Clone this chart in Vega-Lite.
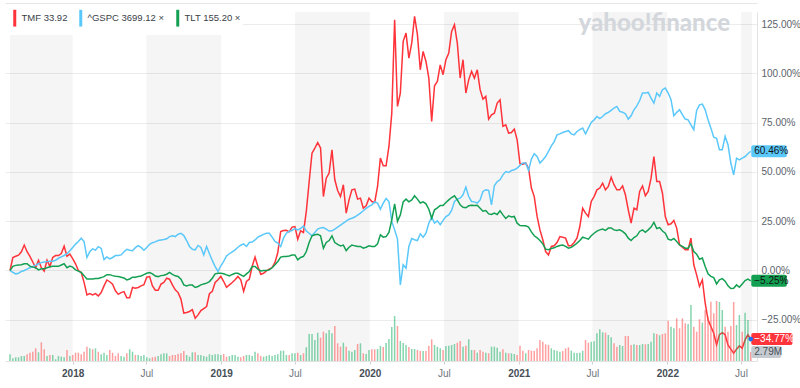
{
"$schema":"https://vega.github.io/schema/vega-lite/v6.json",
"width":752,"height":349,
"autosize":{"type":"none"},
"padding":{"left":5,"top":12,"right":43,"bottom":27},
"background":"#ffffff",
"title":{"text":"yahoo!finance","orient":"top","anchor":"end","frame":"group","offset":-16,"dy":36,"dx":-27,"fontSize":24,"fontWeight":900,"color":"#d3d7dc","font":"Lato","baseline":"alphabetic"},
"config":{"view":{"stroke":null},"font":"Liberation Sans","axis":{"title":null}},
"datasets":{
"bands":[
{"start":"2017-07-31","end":"2018-01-01"},
{"start":"2018-07-01","end":"2019-01-01"},
{"start":"2019-07-01","end":"2020-01-01"},
{"start":"2020-07-01","end":"2021-01-01"},
{"start":"2021-07-01","end":"2022-01-01"},
{"start":"2022-07-01","end":"2022-07-28"}
],
"prices":[
{"date":"2017-07-31","TMF":0,"GSPC":0,"TLT":0,"vol":2.08},
{"date":"2017-08-07","TMF":6.6,"GSPC":-0.9,"TLT":2.1,"vol":0.84},
{"date":"2017-08-14","TMF":7.2,"GSPC":-1.7,"TLT":2.6,"vol":1.15},
{"date":"2017-08-21","TMF":7.8,"GSPC":-1.4,"TLT":2.8,"vol":1.15},
{"date":"2017-08-28","TMF":9.5,"GSPC":-0.5,"TLT":2.9,"vol":1.55},
{"date":"2017-09-04","TMF":12.9,"GSPC":0,"TLT":3.4,"vol":1.55},
{"date":"2017-09-11","TMF":9.5,"GSPC":0.7,"TLT":3.4,"vol":2.08},
{"date":"2017-09-18","TMF":7.2,"GSPC":1.4,"TLT":2.2,"vol":2.57},
{"date":"2017-09-25","TMF":4.3,"GSPC":2.1,"TLT":1.7,"vol":2.88},
{"date":"2017-10-02","TMF":1.4,"GSPC":2.6,"TLT":1.4,"vol":3.94},
{"date":"2017-10-09","TMF":5.2,"GSPC":3.4,"TLT":0.3,"vol":2.7},
{"date":"2017-10-16","TMF":1.4,"GSPC":4.0,"TLT":0.9,"vol":5.8},
{"date":"2017-10-23","TMF":-0.3,"GSPC":4.3,"TLT":0.9,"vol":3.63},
{"date":"2017-10-30","TMF":5.2,"GSPC":4.5,"TLT":1.4,"vol":1.55},
{"date":"2017-11-06","TMF":2.1,"GSPC":4.7,"TLT":1.9,"vol":1.86},
{"date":"2017-11-13","TMF":6.6,"GSPC":4.7,"TLT":2.1,"vol":1.86},
{"date":"2017-11-20","TMF":7.6,"GSPC":5.2,"TLT":2.1,"vol":0.53},
{"date":"2017-11-27","TMF":7.6,"GSPC":6.2,"TLT":2.1,"vol":1.55},
{"date":"2017-12-04","TMF":8.6,"GSPC":6.9,"TLT":2.8,"vol":1.33},
{"date":"2017-12-11","TMF":12.4,"GSPC":7.6,"TLT":3.4,"vol":1.15},
{"date":"2017-12-18","TMF":7.2,"GSPC":8.4,"TLT":1.4,"vol":3.41},
{"date":"2017-12-25","TMF":8.3,"GSPC":10.0,"TLT":2.2,"vol":1.55},
{"date":"2018-01-01","TMF":6.0,"GSPC":11.7,"TLT":1.7,"vol":1.86},
{"date":"2018-01-08","TMF":3.4,"GSPC":13.4,"TLT":0.3,"vol":2.57},
{"date":"2018-01-15","TMF":0,"GSPC":14.7,"TLT":-0.3,"vol":2.57},
{"date":"2018-01-22","TMF":-1.0,"GSPC":16.4,"TLT":-1.0,"vol":2.08},
{"date":"2018-01-29","TMF":-6.0,"GSPC":14.7,"TLT":-2.6,"vol":2.88},
{"date":"2018-02-05","TMF":-12.4,"GSPC":6.6,"TLT":-4.3,"vol":4.43},
{"date":"2018-02-12","TMF":-11.7,"GSPC":9.5,"TLT":-4.3,"vol":3.94},
{"date":"2018-02-19","TMF":-12.4,"GSPC":11.0,"TLT":-4.3,"vol":3.63},
{"date":"2018-02-26","TMF":-11.7,"GSPC":10.3,"TLT":-4.1,"vol":3.94},
{"date":"2018-03-05","TMF":-12.9,"GSPC":12.1,"TLT":-4.0,"vol":2.88},
{"date":"2018-03-12","TMF":-11.2,"GSPC":11.2,"TLT":-3.6,"vol":2.08},
{"date":"2018-03-19","TMF":-7.8,"GSPC":5.5,"TLT":-3.1,"vol":2.57},
{"date":"2018-03-26","TMF":-4.8,"GSPC":6.9,"TLT":-2.1,"vol":1.86},
{"date":"2018-04-02","TMF":-5.7,"GSPC":5.9,"TLT":-2.1,"vol":3.41},
{"date":"2018-04-09","TMF":-6.9,"GSPC":6.6,"TLT":-2.6,"vol":2.57},
{"date":"2018-04-16","TMF":-10.3,"GSPC":7.6,"TLT":-2.9,"vol":1.55},
{"date":"2018-04-23","TMF":-12.1,"GSPC":7.6,"TLT":-3.1,"vol":2.39},
{"date":"2018-04-30","TMF":-11.2,"GSPC":7.9,"TLT":-3.4,"vol":1.55},
{"date":"2018-05-07","TMF":-10.7,"GSPC":9.5,"TLT":-3.8,"vol":1.33},
{"date":"2018-05-14","TMF":-13.8,"GSPC":10.7,"TLT":-4.8,"vol":2.39},
{"date":"2018-05-21","TMF":-13.8,"GSPC":10.3,"TLT":-4.3,"vol":3.63},
{"date":"2018-05-28","TMF":-8.6,"GSPC":10.0,"TLT":-3.4,"vol":2.88},
{"date":"2018-06-04","TMF":-9.0,"GSPC":11.6,"TLT":-3.4,"vol":1.86},
{"date":"2018-06-11","TMF":-8.6,"GSPC":12.6,"TLT":-3.1,"vol":1.86},
{"date":"2018-06-18","TMF":-7.8,"GSPC":11.7,"TLT":-2.8,"vol":1.55},
{"date":"2018-06-25","TMF":-7.2,"GSPC":10.3,"TLT":-2.1,"vol":1.86},
{"date":"2018-07-02","TMF":-3.4,"GSPC":11.7,"TLT":-1.4,"vol":1.15},
{"date":"2018-07-09","TMF":-3.1,"GSPC":13.3,"TLT":-1.0,"vol":0.84},
{"date":"2018-07-16","TMF":-7.8,"GSPC":14.1,"TLT":-1.7,"vol":1.15},
{"date":"2018-07-23","TMF":-10.0,"GSPC":14.5,"TLT":-2.8,"vol":1.33},
{"date":"2018-07-30","TMF":-10.0,"GSPC":15.2,"TLT":-3.1,"vol":1.55},
{"date":"2018-08-06","TMF":-6.9,"GSPC":15.5,"TLT":-2.6,"vol":2.08},
{"date":"2018-08-13","TMF":-6.1,"GSPC":15.7,"TLT":-2.4,"vol":2.39},
{"date":"2018-08-20","TMF":-3.9,"GSPC":16.1,"TLT":-1.9,"vol":2.39},
{"date":"2018-08-27","TMF":-4.4,"GSPC":17.2,"TLT":-1.0,"vol":1.55},
{"date":"2018-09-03","TMF":-7.3,"GSPC":17.6,"TLT":-2.0,"vol":1.86},
{"date":"2018-09-10","TMF":-9.8,"GSPC":17.2,"TLT":-2.7,"vol":1.86},
{"date":"2018-09-17","TMF":-11.2,"GSPC":18.4,"TLT":-3.0,"vol":2.17},
{"date":"2018-09-24","TMF":-14.5,"GSPC":18.9,"TLT":-4.4,"vol":2.39},
{"date":"2018-10-01","TMF":-21.6,"GSPC":17.7,"TLT":-7.3,"vol":3.1},
{"date":"2018-10-08","TMF":-21.3,"GSPC":15.2,"TLT":-7.8,"vol":1.86},
{"date":"2018-10-15","TMF":-20.8,"GSPC":12.2,"TLT":-7.3,"vol":1.33},
{"date":"2018-10-22","TMF":-19.9,"GSPC":10.8,"TLT":-7.4,"vol":2.7},
{"date":"2018-10-29","TMF":-24.2,"GSPC":10.5,"TLT":-8.6,"vol":2.7},
{"date":"2018-11-05","TMF":-22.5,"GSPC":12.7,"TLT":-8.1,"vol":1.86},
{"date":"2018-11-12","TMF":-20.3,"GSPC":11.7,"TLT":-7.3,"vol":1.86},
{"date":"2018-11-19","TMF":-19.3,"GSPC":7.9,"TLT":-6.8,"vol":1.55},
{"date":"2018-11-26","TMF":-18.3,"GSPC":12.2,"TLT":-6.4,"vol":1.33},
{"date":"2018-12-03","TMF":-11.8,"GSPC":8.5,"TLT":-5.6,"vol":2.08},
{"date":"2018-12-10","TMF":-10.6,"GSPC":5.1,"TLT":-3.9,"vol":1.86},
{"date":"2018-12-17","TMF":-6.1,"GSPC":2.0,"TLT":-1.7,"vol":2.08},
{"date":"2018-12-24","TMF":-4.7,"GSPC":-0.5,"TLT":-1.4,"vol":2.08},
{"date":"2018-12-31","TMF":-3.0,"GSPC":2.4,"TLT":-1.4,"vol":1.86},
{"date":"2019-01-07","TMF":-5.6,"GSPC":4.6,"TLT":-1.7,"vol":2.17},
{"date":"2019-01-14","TMF":-8.5,"GSPC":7.4,"TLT":-2.2,"vol":1.33},
{"date":"2019-01-21","TMF":-7.3,"GSPC":8.5,"TLT":-2.7,"vol":1.55},
{"date":"2019-01-28","TMF":-6.1,"GSPC":9.5,"TLT":-2.0,"vol":1.86},
{"date":"2019-02-04","TMF":-4.7,"GSPC":10.5,"TLT":-1.4,"vol":1.86},
{"date":"2019-02-11","TMF":-3.0,"GSPC":11.8,"TLT":-1.4,"vol":1.33},
{"date":"2019-02-18","TMF":-4.7,"GSPC":12.8,"TLT":-2.2,"vol":1.15},
{"date":"2019-02-25","TMF":-10.6,"GSPC":13.5,"TLT":-3.0,"vol":1.55},
{"date":"2019-03-04","TMF":-5.6,"GSPC":12.2,"TLT":-1.7,"vol":1.86},
{"date":"2019-03-11","TMF":-4.4,"GSPC":14.2,"TLT":-0.5,"vol":1.86},
{"date":"2019-03-18","TMF":2.0,"GSPC":14.4,"TLT":2.0,"vol":1.55},
{"date":"2019-03-25","TMF":6.8,"GSPC":15.5,"TLT":2.0,"vol":2.88},
{"date":"2019-04-01","TMF":2.0,"GSPC":16.9,"TLT":0.7,"vol":2.39},
{"date":"2019-04-08","TMF":-1.9,"GSPC":17.6,"TLT":-0.2,"vol":1.55},
{"date":"2019-04-15","TMF":-1.4,"GSPC":18.3,"TLT":0,"vol":1.33},
{"date":"2019-04-22","TMF":-0.2,"GSPC":18.9,"TLT":0,"vol":1.55},
{"date":"2019-04-29","TMF":0.7,"GSPC":18.9,"TLT":0.3,"vol":1.86},
{"date":"2019-05-06","TMF":1.5,"GSPC":16.9,"TLT":1.4,"vol":1.55},
{"date":"2019-05-13","TMF":4.1,"GSPC":14.7,"TLT":2.9,"vol":1.86},
{"date":"2019-05-20","TMF":9.1,"GSPC":13.9,"TLT":4.6,"vol":2.08},
{"date":"2019-05-27","TMF":19.8,"GSPC":12.2,"TLT":6.8,"vol":3.19},
{"date":"2019-06-03","TMF":20.3,"GSPC":16.4,"TLT":7.1,"vol":3.19},
{"date":"2019-06-10","TMF":20.4,"GSPC":18.9,"TLT":7.1,"vol":1.86},
{"date":"2019-06-17","TMF":19.6,"GSPC":19.9,"TLT":7.4,"vol":1.86},
{"date":"2019-06-24","TMF":22.0,"GSPC":20.3,"TLT":7.8,"vol":2.39},
{"date":"2019-07-01","TMF":22.3,"GSPC":21.3,"TLT":7.9,"vol":2.39},
{"date":"2019-07-08","TMF":15.9,"GSPC":20.6,"TLT":5.4,"vol":2.57},
{"date":"2019-07-15","TMF":20.1,"GSPC":21.3,"TLT":6.6,"vol":1.86},
{"date":"2019-07-22","TMF":19.3,"GSPC":22.6,"TLT":7.1,"vol":2.39},
{"date":"2019-07-29","TMF":30.0,"GSPC":20.0,"TLT":9.6,"vol":4.25},
{"date":"2019-08-05","TMF":45.0,"GSPC":18.9,"TLT":14.2,"vol":8.37},
{"date":"2019-08-12","TMF":59.5,"GSPC":17.6,"TLT":17.6,"vol":8.37},
{"date":"2019-08-19","TMF":62.1,"GSPC":19.3,"TLT":18.1,"vol":6.51},
{"date":"2019-08-26","TMF":64.9,"GSPC":21.0,"TLT":18.4,"vol":8.77},
{"date":"2019-09-02","TMF":62.1,"GSPC":21.6,"TLT":17.6,"vol":7.22},
{"date":"2019-09-09","TMF":37.5,"GSPC":21.8,"TLT":11.3,"vol":9.08},
{"date":"2019-09-16","TMF":46.8,"GSPC":21.0,"TLT":14.2,"vol":8.59},
{"date":"2019-09-23","TMF":49.4,"GSPC":20.0,"TLT":15.2,"vol":9.61},
{"date":"2019-09-30","TMF":61.2,"GSPC":20.1,"TLT":17.6,"vol":8.59},
{"date":"2019-10-07","TMF":46.0,"GSPC":21.0,"TLT":14.2,"vol":10.85},
{"date":"2019-10-14","TMF":40.6,"GSPC":22.0,"TLT":13.2,"vol":5.49},
{"date":"2019-10-21","TMF":37.5,"GSPC":23.0,"TLT":12.5,"vol":4.43},
{"date":"2019-10-28","TMF":43.5,"GSPC":24.0,"TLT":12.9,"vol":5.67},
{"date":"2019-11-04","TMF":29.1,"GSPC":25.0,"TLT":10.1,"vol":4.43},
{"date":"2019-11-11","TMF":35.8,"GSPC":26.0,"TLT":11.8,"vol":3.19},
{"date":"2019-11-18","TMF":40.9,"GSPC":26.5,"TLT":12.9,"vol":2.88},
{"date":"2019-11-25","TMF":41.3,"GSPC":27.1,"TLT":12.5,"vol":3.41},
{"date":"2019-12-02","TMF":36.2,"GSPC":28.1,"TLT":12.2,"vol":5.27},
{"date":"2019-12-09","TMF":36.7,"GSPC":29.1,"TLT":12.2,"vol":5.49},
{"date":"2019-12-16","TMF":31.6,"GSPC":30.3,"TLT":11.3,"vol":2.39},
{"date":"2019-12-23","TMF":32.8,"GSPC":31.5,"TLT":11.8,"vol":2.17},
{"date":"2019-12-30","TMF":36.7,"GSPC":32.5,"TLT":12.5,"vol":3.41},
{"date":"2020-01-06","TMF":35.0,"GSPC":33.3,"TLT":12.2,"vol":3.63},
{"date":"2020-01-13","TMF":34.5,"GSPC":34.8,"TLT":12.2,"vol":3.63},
{"date":"2020-01-20","TMF":42.6,"GSPC":34.2,"TLT":13.5,"vol":3.72},
{"date":"2020-01-27","TMF":57.0,"GSPC":31.1,"TLT":18.1,"vol":4.65},
{"date":"2020-02-03","TMF":53.1,"GSPC":34.2,"TLT":16.9,"vol":4.34},
{"date":"2020-02-10","TMF":53.1,"GSPC":36.5,"TLT":17.2,"vol":5.58},
{"date":"2020-02-17","TMF":62.9,"GSPC":35.0,"TLT":19.3,"vol":6.82},
{"date":"2020-02-24","TMF":79.8,"GSPC":24.9,"TLT":25.7,"vol":10.54},
{"date":"2020-03-02","TMF":127.2,"GSPC":20.6,"TLT":33.8,"vol":13.95},
{"date":"2020-03-09","TMF":83.2,"GSPC":15.9,"TLT":24.9,"vol":10.85},
{"date":"2020-03-16","TMF":90.0,"GSPC":-7.3,"TLT":28.2,"vol":6.2},
{"date":"2020-03-23","TMF":116.2,"GSPC":2.9,"TLT":34.8,"vol":5.58},
{"date":"2020-03-30","TMF":120.4,"GSPC":1.2,"TLT":36.2,"vol":4.96},
{"date":"2020-04-06","TMF":107.7,"GSPC":12.2,"TLT":34.8,"vol":4.34},
{"date":"2020-04-13","TMF":115.3,"GSPC":16.2,"TLT":35.8,"vol":3.72},
{"date":"2020-04-20","TMF":128.9,"GSPC":15.6,"TLT":37.9,"vol":3.72},
{"date":"2020-04-27","TMF":119.6,"GSPC":15.2,"TLT":36.2,"vol":3.41},
{"date":"2020-05-04","TMF":101.8,"GSPC":18.6,"TLT":34.2,"vol":3.1},
{"date":"2020-05-11","TMF":111.1,"GSPC":16.9,"TLT":34.8,"vol":3.1},
{"date":"2020-05-18","TMF":106.0,"GSPC":18.9,"TLT":33.8,"vol":3.1},
{"date":"2020-05-25","TMF":97.6,"GSPC":24.0,"TLT":31.1,"vol":4.74},
{"date":"2020-06-01","TMF":75.6,"GSPC":27.1,"TLT":26.5,"vol":6.73},
{"date":"2020-06-08","TMF":93.7,"GSPC":24.0,"TLT":30.8,"vol":4.96},
{"date":"2020-06-15","TMF":95.9,"GSPC":25.2,"TLT":31.8,"vol":4.43},
{"date":"2020-06-22","TMF":104.3,"GSPC":23.2,"TLT":33.0,"vol":3.94},
{"date":"2020-06-29","TMF":99.3,"GSPC":25.4,"TLT":33.0,"vol":3.41},
{"date":"2020-07-06","TMF":106.9,"GSPC":27.4,"TLT":34.5,"vol":4.65},
{"date":"2020-07-13","TMF":110.3,"GSPC":28.2,"TLT":35.8,"vol":4.74},
{"date":"2020-07-20","TMF":121.2,"GSPC":30.5,"TLT":37.0,"vol":4.96},
{"date":"2020-07-27","TMF":124.6,"GSPC":35.0,"TLT":37.9,"vol":5.27},
{"date":"2020-08-03","TMF":115.3,"GSPC":36.2,"TLT":35.8,"vol":5.67},
{"date":"2020-08-10","TMF":97.6,"GSPC":36.7,"TLT":33.3,"vol":6.2},
{"date":"2020-08-17","TMF":106.9,"GSPC":38.4,"TLT":32.1,"vol":4.43},
{"date":"2020-08-24","TMF":90.0,"GSPC":42.3,"TLT":31.8,"vol":4.74},
{"date":"2020-08-31","TMF":96.7,"GSPC":37.5,"TLT":32.8,"vol":6.73},
{"date":"2020-09-07","TMF":101.0,"GSPC":35.0,"TLT":33.1,"vol":3.41},
{"date":"2020-09-14","TMF":97.6,"GSPC":34.8,"TLT":33.0,"vol":3.41},
{"date":"2020-09-21","TMF":101.8,"GSPC":34.2,"TLT":33.1,"vol":2.57},
{"date":"2020-09-28","TMF":91.7,"GSPC":35.8,"TLT":31.6,"vol":3.41},
{"date":"2020-10-05","TMF":86.9,"GSPC":40.1,"TLT":30.1,"vol":2.88},
{"date":"2020-10-12","TMF":88.3,"GSPC":40.9,"TLT":30.4,"vol":2.57},
{"date":"2020-10-19","TMF":76.8,"GSPC":40.6,"TLT":28.7,"vol":2.39},
{"date":"2020-10-26","TMF":79.0,"GSPC":33.3,"TLT":28.4,"vol":4.43},
{"date":"2020-11-02","TMF":79.8,"GSPC":43.0,"TLT":29.1,"vol":4.43},
{"date":"2020-11-09","TMF":84.9,"GSPC":45.1,"TLT":28.4,"vol":4.12},
{"date":"2020-11-16","TMF":86.6,"GSPC":46.0,"TLT":30.3,"vol":2.88},
{"date":"2020-11-23","TMF":73.1,"GSPC":48.5,"TLT":28.2,"vol":3.63},
{"date":"2020-11-30","TMF":73.9,"GSPC":50.2,"TLT":26.4,"vol":2.57},
{"date":"2020-12-07","TMF":69.7,"GSPC":49.7,"TLT":27.7,"vol":2.39},
{"date":"2020-12-14","TMF":70.0,"GSPC":50.7,"TLT":27.1,"vol":2.39},
{"date":"2020-12-21","TMF":71.7,"GSPC":51.1,"TLT":27.4,"vol":2.17},
{"date":"2020-12-28","TMF":66.3,"GSPC":51.9,"TLT":24.0,"vol":1.86},
{"date":"2021-01-04","TMF":54.1,"GSPC":53.3,"TLT":22.8,"vol":4.74},
{"date":"2021-01-11","TMF":53.9,"GSPC":54.5,"TLT":22.7,"vol":3.19},
{"date":"2021-01-18","TMF":54.5,"GSPC":54.5,"TLT":22.7,"vol":2.39},
{"date":"2021-01-25","TMF":51.9,"GSPC":50.7,"TLT":22.0,"vol":3.41},
{"date":"2021-02-01","TMF":41.8,"GSPC":56.5,"TLT":19.6,"vol":3.19},
{"date":"2021-02-08","TMF":37.5,"GSPC":59.2,"TLT":17.6,"vol":3.1},
{"date":"2021-02-15","TMF":27.4,"GSPC":57.8,"TLT":16.6,"vol":3.94},
{"date":"2021-02-22","TMF":20.6,"GSPC":54.5,"TLT":15.2,"vol":6.51},
{"date":"2021-03-01","TMF":15.6,"GSPC":56.1,"TLT":13.5,"vol":5.98},
{"date":"2021-03-08","TMF":9.6,"GSPC":57.8,"TLT":10.8,"vol":5.18},
{"date":"2021-03-15","TMF":7.9,"GSPC":60.4,"TLT":10.5,"vol":4.96},
{"date":"2021-03-22","TMF":12.2,"GSPC":63.2,"TLT":11.2,"vol":3.94},
{"date":"2021-03-29","TMF":12.5,"GSPC":65.4,"TLT":11.5,"vol":3.41},
{"date":"2021-04-05","TMF":14.2,"GSPC":68.8,"TLT":12.2,"vol":3.19},
{"date":"2021-04-12","TMF":17.2,"GSPC":69.3,"TLT":12.7,"vol":2.88},
{"date":"2021-04-19","TMF":16.9,"GSPC":70.0,"TLT":12.9,"vol":3.1},
{"date":"2021-04-26","TMF":16.4,"GSPC":70.5,"TLT":12.2,"vol":3.94},
{"date":"2021-05-03","TMF":12.5,"GSPC":70.9,"TLT":11.3,"vol":4.25},
{"date":"2021-05-10","TMF":12.5,"GSPC":69.3,"TLT":11.7,"vol":3.19},
{"date":"2021-05-17","TMF":14.2,"GSPC":68.8,"TLT":12.7,"vol":2.57},
{"date":"2021-05-24","TMF":16.4,"GSPC":70.5,"TLT":13.9,"vol":2.48},
{"date":"2021-05-31","TMF":22.3,"GSPC":71.4,"TLT":15.2,"vol":2.57},
{"date":"2021-06-07","TMF":31.6,"GSPC":72.2,"TLT":16.9,"vol":3.19},
{"date":"2021-06-14","TMF":29.1,"GSPC":69.3,"TLT":16.4,"vol":6.51},
{"date":"2021-06-21","TMF":27.4,"GSPC":72.2,"TLT":15.9,"vol":5.67},
{"date":"2021-06-28","TMF":35.0,"GSPC":75.1,"TLT":17.6,"vol":5.98},
{"date":"2021-07-05","TMF":37.5,"GSPC":76.4,"TLT":18.9,"vol":6.11},
{"date":"2021-07-12","TMF":40.9,"GSPC":78.1,"TLT":20.0,"vol":8.59},
{"date":"2021-07-19","TMF":41.8,"GSPC":77.0,"TLT":20.6,"vol":9.83},
{"date":"2021-07-26","TMF":44.3,"GSPC":78.1,"TLT":21.0,"vol":8.9},
{"date":"2021-08-02","TMF":40.9,"GSPC":79.5,"TLT":20.3,"vol":8.77},
{"date":"2021-08-09","TMF":42.6,"GSPC":80.2,"TLT":21.5,"vol":8.06},
{"date":"2021-08-16","TMF":47.3,"GSPC":81.2,"TLT":21.6,"vol":7.35},
{"date":"2021-08-23","TMF":43.5,"GSPC":82.4,"TLT":20.6,"vol":5.49},
{"date":"2021-08-30","TMF":40.9,"GSPC":83.2,"TLT":20.3,"vol":4.43},
{"date":"2021-09-06","TMF":40.9,"GSPC":80.7,"TLT":20.6,"vol":4.96},
{"date":"2021-09-13","TMF":42.9,"GSPC":80.3,"TLT":19.8,"vol":4.65},
{"date":"2021-09-20","TMF":38.4,"GSPC":79.5,"TLT":18.6,"vol":7.75},
{"date":"2021-09-27","TMF":30.8,"GSPC":76.8,"TLT":16.4,"vol":7.75},
{"date":"2021-10-04","TMF":24.0,"GSPC":78.5,"TLT":15.2,"vol":4.96},
{"date":"2021-10-11","TMF":31.6,"GSPC":81.5,"TLT":16.7,"vol":5.18},
{"date":"2021-10-18","TMF":30.8,"GSPC":83.5,"TLT":17.6,"vol":4.96},
{"date":"2021-10-25","TMF":40.1,"GSPC":86.2,"TLT":19.8,"vol":4.96},
{"date":"2021-11-01","TMF":42.9,"GSPC":90.0,"TLT":20.6,"vol":5.27},
{"date":"2021-11-08","TMF":37.9,"GSPC":90.0,"TLT":19.4,"vol":5.18},
{"date":"2021-11-15","TMF":40.1,"GSPC":90.3,"TLT":20.6,"vol":5.27},
{"date":"2021-11-22","TMF":46.8,"GSPC":87.4,"TLT":22.0,"vol":5.98},
{"date":"2021-11-29","TMF":57.8,"GSPC":84.9,"TLT":24.4,"vol":8.59},
{"date":"2021-12-06","TMF":45.1,"GSPC":90.0,"TLT":21.3,"vol":8.37},
{"date":"2021-12-13","TMF":45.1,"GSPC":88.3,"TLT":21.8,"vol":7.97},
{"date":"2021-12-20","TMF":39.2,"GSPC":91.7,"TLT":20.0,"vol":8.37},
{"date":"2021-12-27","TMF":27.4,"GSPC":92.5,"TLT":18.9,"vol":8.59},
{"date":"2022-01-03","TMF":23.2,"GSPC":90.0,"TLT":15.9,"vol":12.49},
{"date":"2022-01-10","TMF":23.7,"GSPC":86.6,"TLT":15.4,"vol":10.63},
{"date":"2022-01-17","TMF":25.4,"GSPC":78.5,"TLT":16.2,"vol":10.14},
{"date":"2022-01-24","TMF":21.5,"GSPC":80.2,"TLT":14.7,"vol":13.24},
{"date":"2022-01-31","TMF":13.0,"GSPC":81.5,"TLT":13.0,"vol":10.14},
{"date":"2022-02-07","TMF":11.8,"GSPC":79.0,"TLT":12.2,"vol":13.24},
{"date":"2022-02-14","TMF":10.5,"GSPC":76.8,"TLT":11.3,"vol":11.69},
{"date":"2022-02-21","TMF":10.5,"GSPC":76.4,"TLT":11.3,"vol":11.47},
{"date":"2022-02-28","TMF":16.4,"GSPC":73.9,"TLT":13.5,"vol":17.36},
{"date":"2022-03-07","TMF":2.9,"GSPC":71.4,"TLT":9.6,"vol":10.63},
{"date":"2022-03-14","TMF":-2.2,"GSPC":81.2,"TLT":8.3,"vol":9.08},
{"date":"2022-03-21","TMF":-8.1,"GSPC":84.0,"TLT":5.7,"vol":12.93},
{"date":"2022-03-28","TMF":-4.7,"GSPC":84.4,"TLT":6.3,"vol":11.87},
{"date":"2022-04-04","TMF":-16.6,"GSPC":81.5,"TLT":2.0,"vol":15.81},
{"date":"2022-04-11","TMF":-25.0,"GSPC":76.4,"TLT":-1.7,"vol":13.73},
{"date":"2022-04-18","TMF":-28.4,"GSPC":72.2,"TLT":-3.0,"vol":18.38},
{"date":"2022-04-25","TMF":-31.8,"GSPC":67.6,"TLT":-3.6,"vol":14.79},
{"date":"2022-05-02","TMF":-37.7,"GSPC":67.0,"TLT":-6.8,"vol":18.6},
{"date":"2022-05-09","TMF":-32.6,"GSPC":61.2,"TLT":-4.7,"vol":18.29},
{"date":"2022-05-16","TMF":-31.5,"GSPC":61.2,"TLT":-4.1,"vol":15.81},
{"date":"2022-05-23","TMF":-32.6,"GSPC":68.0,"TLT":-5.4,"vol":10.63},
{"date":"2022-05-30","TMF":-37.7,"GSPC":63.8,"TLT":-7.8,"vol":9.08},
{"date":"2022-06-06","TMF":-39.9,"GSPC":54.5,"TLT":-9.1,"vol":10.85},
{"date":"2022-06-13","TMF":-41.9,"GSPC":48.5,"TLT":-9.0,"vol":18.29},
{"date":"2022-06-20","TMF":-39.9,"GSPC":57.0,"TLT":-7.3,"vol":11.16},
{"date":"2022-06-27","TMF":-38.2,"GSPC":56.1,"TLT":-8.5,"vol":14.26},
{"date":"2022-07-04","TMF":-39.4,"GSPC":57.0,"TLT":-6.8,"vol":9.08},
{"date":"2022-07-11","TMF":-35.2,"GSPC":57.8,"TLT":-5.1,"vol":14.97},
{"date":"2022-07-18","TMF":-32.6,"GSPC":59.2,"TLT":-4.4,"vol":12.71},
{"date":"2022-07-25","TMF":-34.77,"GSPC":60.46,"TLT":-5.25,"vol":2.79}
]
},
"layer":[
{"data":{"name":"bands"},
 "mark":{"type":"rect","color":"#000000","opacity":0.04},
 "encoding":{
  "x":{"field":"start","type":"temporal",
   "scale":{"type":"utc","domain":[{"year":2017,"month":7,"date":31,"utc":true},{"year":2022,"month":7,"date":28,"utc":true}]},
   "axis":{"values":[{"year":2018,"month":1,"date":1,"utc":true},{"year":2018,"month":7,"date":1,"utc":true},{"year":2019,"month":1,"date":1,"utc":true},{"year":2019,"month":7,"date":1,"utc":true},{"year":2020,"month":1,"date":1,"utc":true},{"year":2020,"month":7,"date":1,"utc":true},{"year":2021,"month":1,"date":1,"utc":true},{"year":2021,"month":7,"date":1,"utc":true},{"year":2022,"month":1,"date":1,"utc":true},{"year":2022,"month":7,"date":1,"utc":true}],
    "labelExpr":"utcmonth(datum.value) == 0 ? utcFormat(datum.value, '%Y') : 'Jul'",
    "labelFontWeight":{"condition":{"test":"utcmonth(datum.value) == 0","value":"bold"},"value":"normal"},
    "labelColor":{"condition":{"test":"utcmonth(datum.value) == 0","value":"#464e56"},"value":"#6f7780"},
    "labelFontSize":10,"labelOverlap":false,"labelPadding":4,
    "grid":false,"domainColor":"#e3e3e3","tickColor":"#d0d0d0","tickSize":3}},
  "x2":{"field":"end"}}},
{"data":{"name":"prices"},
 "transform":[{"fold":["TMF","GSPC","TLT"],"as":["series","value"]},{"calculate":"format(datum.value, '.2f') + '%'","as":"label"}],
 "encoding":{
  "x":{"field":"date","type":"temporal","scale":{"type":"utc","domain":[{"year":2017,"month":7,"date":31,"utc":true},{"year":2022,"month":7,"date":28,"utc":true}]},
   "axis":{"orient":"top","offset":9,"labels":false,"ticks":false,"grid":false,"domain":true,"domainColor":"#e6e6e6"}},
  "y":{"field":"value","type":"quantitative","scale":{"domain":[-45.9,131.1],"nice":false,"zero":false},
   "axis":{"orient":"right","values":[-25,0,25,50,75,100,125],"labelExpr":"format(datum.value, '.2f') + '%'","grid":true,"gridColor":"#ececec","domain":true,"domainColor":"#e3e3e3","ticks":false,"labelPadding":4,"labelColor":"#5b636a","labelFontSize":10}}},
 "layer":[
  {"mark":{"type":"line","strokeWidth":1.5},
   "encoding":{"color":{"field":"series","type":"nominal",
    "scale":{"domain":["TMF","GSPC","TLT"],"range":["#ff333a","#5ac8fa","#13a052"]},
    "legend":{"orient":"none","legendX":0,"legendY":-1,"direction":"horizontal","title":null,
     "symbolType":"M1,-2.8L1,2.8","symbolSize":36,"symbolStrokeWidth":3,
     "labelFontSize":9.5,"labelColor":"#3a4148","fillColor":"#ffffff","padding":2,"columnPadding":5,"labelOffset":5,
     "labelExpr":"datum.label == 'TMF' ? 'TMF 33.92' : datum.label == 'GSPC' ? '^GSPC 3699.12 ×' : 'TLT 155.20 ×'"}}}},
  {"transform":[{"filter":"time(toDate(datum.date)) == time(toDate('2022-07-25'))"}],
   "mark":{"type":"rect","height":12,"width":{"expr":"length(datum.label) * 5.6 + 2"},"xOffset":{"expr":"length(datum.label) * 2.8 + 1.5"},"cornerRadius":2},
   "encoding":{"color":{"field":"series","type":"nominal","legend":null}}},
  {"transform":[{"filter":"time(toDate(datum.date)) == time(toDate('2022-07-25'))"}],
   "mark":{"type":"text","align":"left","baseline":"middle","dx":3.5,"fontSize":10},
   "encoding":{"text":{"field":"label"},"color":{"condition":{"test":"datum.series == 'TMF'","value":"#ffffff"},"value":"#111111"}}},
  {"transform":[{"filter":"time(toDate(datum.date)) == time(toDate('2022-07-25')) && datum.series == 'TMF'"}],
   "mark":{"type":"circle","size":22,"color":"#1e6cf0","opacity":1},
   "encoding":{}}
 ]},
{"data":{"name":"prices"},
 "transform":[{"window":[{"op":"lag","field":"TMF","as":"prev"}],"sort":[{"field":"date"}]},{"calculate":"format(datum.vol, '.2f') + 'M'","as":"label"}],
 "encoding":{
  "x":{"field":"date","type":"temporal","scale":{"type":"utc","domain":[{"year":2017,"month":7,"date":31,"utc":true},{"year":2022,"month":7,"date":28,"utc":true}]},"axis":null},
  "y":{"field":"vol","type":"quantitative","scale":{"domain":[0,108.2],"nice":false,"zero":true},"axis":null}},
 "layer":[
  {"mark":{"type":"bar","width":1.5,"opacity":0.55},
   "encoding":{"color":{"condition":{"test":"datum.prev == null || datum.TMF >= datum.prev","value":"#1fb36a"},"value":"#ff5151"}}},
  {"transform":[{"filter":"time(toDate(datum.date)) == time(toDate('2022-07-25'))"}],
   "mark":{"type":"rect","height":12,"color":"#c5cad0","width":{"expr":"length(datum.label) * 5.6 + 2"},"xOffset":{"expr":"length(datum.label) * 2.8 + 1.5"},"cornerRadius":2},
   "encoding":{}},
  {"transform":[{"filter":"time(toDate(datum.date)) == time(toDate('2022-07-25'))"}],
   "mark":{"type":"text","align":"left","baseline":"middle","dx":3.5,"fontSize":10,"color":"#464e56"},
   "encoding":{"text":{"field":"label"}}}
 ]}
],
"resolve":{"scale":{"y":"independent"},"axis":{"x":"independent"}}
}
